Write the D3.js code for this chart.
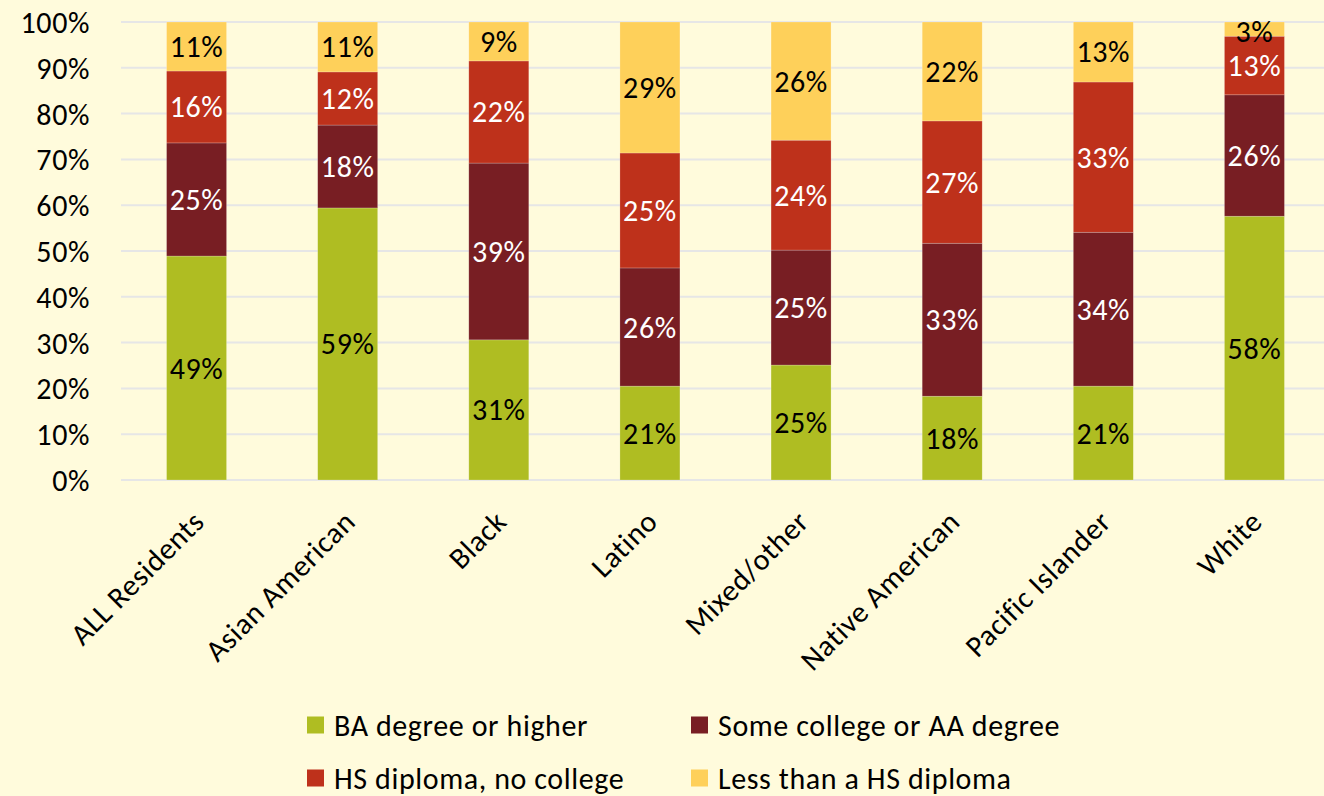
<!DOCTYPE html>
<html>
<head>
<meta charset="utf-8">
<script src="https://cdn.jsdelivr.net/npm/d3@7"></script>
<style>
  html, body { margin: 0; padding: 0; background: #FFFBDC; }
  svg { display: block; }
  text { font-family: Carlito, Lato, "Open Sans", sans-serif; letter-spacing: 0.6px; }
</style>
</head>
<body>
<svg id="chart" width="1324" height="796"></svg>
<script>
// Educational attainment by race/ethnicity (share of adult residents, %)
const categories = ["ALL Residents", "Asian American", "Black", "Latino",
                    "Mixed/other", "Native American", "Pacific Islander", "White"];
const seriesNames = ["BA degree or higher", "Some college or AA degree",
                     "HS diploma, no college", "Less than a HS diploma"];
const baHigher     = [48.9, 59.4, 30.6, 20.5, 25.1, 18.3, 20.5, 57.6];
const someCollege  = [24.7, 18.1, 38.6, 25.8, 25.1, 33.4, 33.6, 26.5];
const hsDiploma    = [15.7, 11.6, 22.3, 25.1, 24.0, 26.7, 32.8, 12.8];
const lessThanHS   = [10.7, 10.9,  8.5, 28.6, 25.8, 21.6, 13.1,  3.1];
const yTicks = [0, 10, 20, 30, 40, 50, 60, 70, 80, 90, 100];

const colors = ["#AFBD22", "#781E23", "#BE311B", "#FED05A"];
const labelColors = ["#000000", "#FFFFFF", "#FFFFFF", "#000000"];

const FONT = 30;

const seriesValues = [baHigher, someCollege, hsDiploma, lessThanHS];
const rows = categories.map((c, i) => {
  const r = { category: c };
  seriesNames.forEach((s, k) => { r[s] = seriesValues[k][i]; });
  return r;
});
const stacked = d3.stack().keys(seriesNames)(rows);

const svg = d3.select("#chart");
const margin = { left: 121, right: 1330, top: 22, bottom: 480 };

const x = d3.scaleBand()
  .domain(categories)
  .range([margin.left, margin.right])
  .paddingInner(0.603)
  .paddingOuter(0.3015);

const y = d3.scaleLinear().domain([0, 100]).range([margin.bottom, margin.top]);

// gridlines
svg.append("g")
  .selectAll("line")
  .data(yTicks)
  .join("line")
  .attr("x1", margin.left).attr("x2", 1324)
  .attr("y1", d => y(d)).attr("y2", d => y(d))
  .attr("stroke", "#E6E6E6").attr("stroke-width", 2);

// y axis labels
const yAxis = d3.axisLeft(y).tickValues(yTicks).tickFormat(d => d + "%").tickSize(0).tickPadding(0);
const yg = svg.append("g").attr("transform", `translate(90,0)`).call(yAxis);
yg.select(".domain").remove();
yg.selectAll("text")
  .attr("font-size", FONT).attr("fill", "#000").attr("dy", "0.35em")
  .style("font-family", "Carlito, Lato, 'Open Sans', sans-serif");

// bars
const layers = svg.append("g").selectAll("g")
  .data(stacked)
  .join("g")
  .attr("fill", (d, i) => colors[i]);

layers.selectAll("rect")
  .data(d => d.map(p => ({ p, key: d.key })))
  .join("rect")
  .attr("x", d => x(d.p.data.category))
  .attr("width", x.bandwidth())
  .attr("y", d => y(d.p[1]))
  .attr("height", d => y(d.p[0]) - y(d.p[1]))
  .attr("stroke", "rgba(255,255,255,0.35)")
  .attr("stroke-width", 0.6);

// value labels
stacked.forEach((layer, k) => {
  svg.append("g").selectAll("text")
    .data(layer)
    .join("text")
    .attr("x", d => x(d.data.category) + x.bandwidth() / 2)
    .attr("y", d => {
      const mid = (y(d[0]) + y(d[1])) / 2;
      return k === 3 && (d[1] - d[0]) < 5 ? y(d[1]) + 9 : mid;
    })
    .attr("dy", "0.35em")
    .attr("text-anchor", "middle")
    .attr("font-size", FONT)
    .attr("fill", labelColors[k])
    .text(d => Math.round(d[1] - d[0]) + "%");
});

// category labels (rotated)
const xAxis = d3.axisBottom(x).tickSize(0).tickPadding(0);
const xg = svg.append("g").attr("transform", `translate(0,${margin.bottom})`).call(xAxis);
xg.select(".domain").remove();
xg.selectAll("text")
  .attr("font-size", FONT).attr("fill", "#000")
  .attr("text-anchor", "end")
  .attr("transform", "translate(2,36) rotate(-45)")
  .attr("dy", "0.35em")
  .attr("y", 0)
  .style("font-family", "Carlito, Lato, 'Open Sans', sans-serif");

// legend
const legendItems = [
  { name: seriesNames[0], color: colors[0], x: 307, y: 725 },
  { name: seriesNames[1], color: colors[1], x: 691, y: 725 },
  { name: seriesNames[2], color: colors[2], x: 307, y: 778 },
  { name: seriesNames[3], color: colors[3], x: 691, y: 778 }
];
const lg = svg.append("g").selectAll("g").data(legendItems).join("g")
  .attr("transform", d => `translate(${d.x},${d.y})`);
lg.append("rect").attr("x", 0).attr("y", -8.5).attr("width", 17).attr("height", 17)
  .attr("fill", d => d.color);
lg.append("text").attr("x", 27).attr("dy", "0.35em").attr("font-size", FONT)
  .attr("fill", "#000").text(d => d.name);
</script>
</body>
</html>
